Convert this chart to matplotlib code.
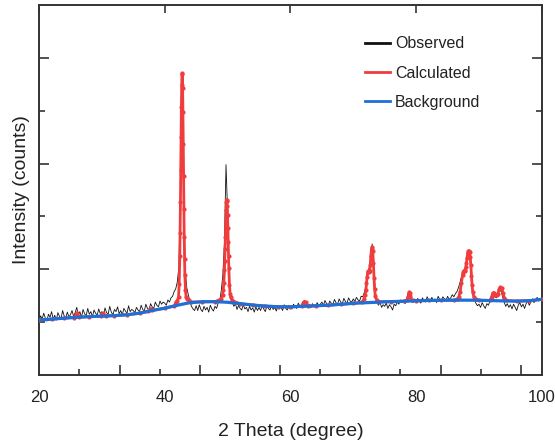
import numpy as np
import matplotlib
matplotlib.use("Agg")
import matplotlib.pyplot as plt
from matplotlib.lines import Line2D

plt.rcParams["font.family"] = ["Liberation Sans", "DejaVu Sans"]

# observed pattern, 2theta from 20 to 100 in 0.25 deg steps
obs_start, obs_step = 20.0, 0.25
obs_y = [
    505, 560, 530, 585, 540, 510, 575, 545, 600, 530, 565, 520, 590, 555, 530, 610, 560, 540, 595, 550,
    570, 610, 555, 590, 640, 565, 600, 545, 620, 580, 560, 630, 575, 600, 550, 615, 585, 565, 625, 580,
    600, 560, 635, 590, 575, 650, 595, 570, 620, 600, 645, 580, 610, 570, 630, 605, 585, 655, 600, 620,
    610, 590, 640, 615, 600, 660, 620, 605, 670, 630, 615, 675, 645, 630, 690, 660, 645, 700, 670, 690,
    680, 660, 710, 690, 730, 745, 790, 815, 880, 1020, 1700, 2860, 1950, 1000, 830, 760, 700, 650, 625, 610,
    655, 610, 665, 620, 600, 650, 615, 640, 595, 660, 625, 605, 650, 630, 680, 700, 800, 950, 1250, 1990,
    1550, 880, 740, 690, 650, 675, 620, 660, 630, 615, 665, 625, 640, 600, 650, 615, 635, 595, 645, 610,
    640, 610, 655, 625, 600, 650, 630, 615, 660, 620, 640, 605, 655, 625, 645, 610, 665, 630, 615, 660,
    640, 625, 670, 645, 630, 680, 650, 665, 695, 705, 680, 650, 670, 635, 675, 650, 640, 685, 655, 670,
    690, 660, 705, 675, 655, 700, 680, 665, 715, 685, 670, 720, 690, 675, 725, 695, 680, 730, 700, 690,
    720, 695, 735, 710, 700, 745, 740, 780, 840, 960, 1010, 1080, 1240, 1000, 780, 700, 660, 690, 640, 665,
    650, 680, 630, 665, 645, 615, 670, 655, 690, 670, 710, 685, 705, 675, 720, 760, 770, 700, 685, 720,
    690, 725, 700, 680, 730, 705, 690, 740, 710, 695, 735, 700, 720, 685, 745, 715, 700, 740, 720, 705,
    745, 715, 730, 760, 740, 770, 790, 830, 880, 940, 990, 1000, 1060, 1140, 1160, 990, 800, 720, 680, 655,
    670, 640, 685, 655, 630, 675, 660, 700, 745, 770, 745, 730, 760, 790, 800, 740, 690, 650, 675, 640,
    665, 625, 670, 640, 610, 660, 685, 645, 670, 630, 675, 700, 660, 690, 720, 685, 705, 735, 700, 720,
    715,
]
obs_x = obs_start + obs_step * np.arange(len(obs_y))

calc_x = [
    20, 22, 24, 25.6, 25.8, 26.0, 26.2, 26.4, 28, 29.8, 30.0, 30.2, 30.4, 30.6, 32, 34, 36,
    37.4, 37.6, 37.8, 38.0, 40, 41.5, 41.8, 42.0, 42.2, 42.3, 42.4, 42.45, 42.5, 42.55, 42.6,
    42.65, 42.7, 42.75, 42.8, 42.85, 42.9, 42.95, 43.0, 43.05, 43.1, 43.15, 43.2, 43.3, 43.4,
    43.6, 43.8, 44.2, 46, 48, 49.0, 49.2, 49.3, 49.4, 49.5, 49.55, 49.6, 49.65, 49.7, 49.75,
    49.8, 49.85, 49.9, 49.95, 50.0, 50.05, 50.1, 50.15, 50.2, 50.3, 50.4, 50.5, 50.7, 51.0,
    52, 54, 56, 58, 60, 61.8, 62.0, 62.2, 62.4, 62.6, 62.8, 64, 66, 68, 70, 71.4, 71.7, 71.9,
    72.0, 72.1, 72.2, 72.3, 72.4, 72.5, 72.6, 72.7, 72.8, 72.9, 73.0, 73.1, 73.2, 73.3, 73.4,
    73.5, 73.7, 74.0, 76, 78, 78.5, 78.7, 78.8, 78.9, 79.0, 79.1, 79.3, 80, 82, 84, 86, 86.5,
    86.8, 87.0, 87.2, 87.4, 87.5, 87.6, 87.7, 87.8, 87.9, 88.0, 88.1, 88.2, 88.3, 88.4, 88.5,
    88.6, 88.7, 88.8, 88.9, 89.0, 89.2, 89.5, 90, 91.8, 92.0, 92.2, 92.4, 92.6, 92.8, 93.0,
    93.2, 93.4, 93.6, 93.8, 94.0, 94.3, 96, 98, 100,
]
calc_y = [
    520, 528, 538, 544, 560, 588, 562, 548, 552, 556, 578, 584, 566, 558, 562, 570, 585,
    602, 622, 626, 612, 632, 653, 690, 704, 740, 862, 1125, 1345, 1635, 1940, 2250,
    2535, 2745, 2855, 2845, 2715, 2490, 2190, 1880, 1575, 1310, 1100, 945, 805, 740,
    715, 705, 690, 693, 694, 720, 760, 800, 870, 990, 1080, 1190, 1310, 1440, 1560,
    1635, 1660, 1650, 1600, 1510, 1390, 1260, 1130, 1010, 850, 770, 735, 710, 695,
    675, 662, 652, 646, 645, 649, 675, 690, 688, 662, 651, 655, 660, 669, 678, 690, 720, 760,
    800, 870, 930, 970, 985, 975, 980, 1040, 1130, 1190, 1210, 1170, 1060, 920, 810,
    750, 710, 695, 694, 698, 705, 740, 770, 785, 775, 745, 710, 702, 705, 707, 708, 715,
    740, 790, 870, 950, 975, 985, 985, 990, 1020, 1060, 1110, 1150, 1170, 1175, 1165,
    1120, 1040, 940, 850, 785, 735, 715, 707, 705, 740, 775, 780, 760, 755, 770,
    810, 830, 825, 780, 730, 705, 699, 703, 716,
]

bg_x = [20, 22, 24, 26, 28, 30, 32, 34, 36, 38, 40, 42, 44, 46, 48, 50, 52, 54, 56, 58, 60,
        62, 64, 66, 68, 70, 72, 74, 76, 78, 80, 82, 84, 86, 88, 90, 92, 94, 96, 98, 100]
bg_y = [520, 528, 538, 546, 552, 557, 562, 570, 585, 610, 632, 660, 684, 693, 694, 688, 675,
        662, 652, 646, 645, 650, 655, 660, 669, 678, 684, 689, 694, 698, 702, 705, 707, 708,
        708, 707, 704, 701, 699, 703, 716]

assert len(calc_x) == len(calc_y) and len(bg_x) == len(bg_y)

label_ticks = [20, 40, 60, 80, 100]
bottom_major = [32.9, 45.6, 58.35, 71.1, 83.9, 96.7]
bottom_minor = [26.35, 39.25, 52.0, 64.7, 77.45, 90.3]

c_obs, c_calc, c_bg = "#111111", "#f03c3c", "#1f6fd8"
edge = "#333333"

fig = plt.figure(figsize=(5.55, 4.43), dpi=100)
ax = fig.add_axes([0.0703, 0.1535, 0.906, 0.835])

ax.plot(obs_x, obs_y, color=c_obs, lw=0.6, zorder=2)
ax.plot(calc_x, calc_y, color=c_calc, lw=2.0, marker="o", ms=3.0, mew=0, zorder=3)
ax.plot(bg_x, bg_y, color=c_bg, lw=2.3, zorder=4)

ax.set_xlim(20, 100)
ax.set_ylim(0, 3500)

ax.set_xticks(label_ticks)
ax.tick_params(axis="x", which="both", direction="in", bottom=True, top=True,
               length=0, pad=11, labelsize=12, labelcolor="#222222", color=edge)
ax.tick_params(axis="x", which="major", top=True, length=6, width=1.2)
# top ticks are drawn, bottom ones are hidden: a separate set below
ax.xaxis.set_tick_params(which="major", bottom=False)

sec = ax.secondary_xaxis("bottom")
sec.set_xticks(bottom_major)
sec.set_xticks(bottom_minor, minor=True)
sec.tick_params(axis="x", which="major", direction="in", length=7, width=1.2,
                color=edge, labelbottom=False)
sec.tick_params(axis="x", which="minor", direction="in", length=4, width=1.2, color=edge)
sec.spines["bottom"].set_visible(False)

ax.set_yticks([1000, 2000, 3000])
ax.set_yticks([500, 1500, 2500], minor=True)
ax.tick_params(axis="y", which="major", direction="in", left=True, right=True,
               length=7, width=1.2, color=edge, labelleft=False)
ax.tick_params(axis="y", which="minor", direction="in", left=True, right=True,
               length=4, width=1.2, color=edge)

for s in ax.spines.values():
    s.set_linewidth(1.4)
    s.set_color(edge)

ax.set_xlabel("2 Theta (degree)", fontsize=14, color="#222222", labelpad=13)
ax.set_ylabel("Intensity (counts)", fontsize=14, color="#222222", labelpad=3)

handles = [Line2D([], [], color=c_obs, lw=2),
           Line2D([], [], color=c_calc, lw=2),
           Line2D([], [], color=c_bg, lw=2)]
ax.legend(handles, ["Observed", "Calculated", "Background"], loc="upper left",
          bbox_to_anchor=(0.648, 0.916), frameon=False, fontsize=11.5,
          handlelength=1.55, handletextpad=0.35, labelspacing=0.9,
          borderpad=0, borderaxespad=0, labelcolor="#222222")

fig.savefig("out.png", dpi=100)
